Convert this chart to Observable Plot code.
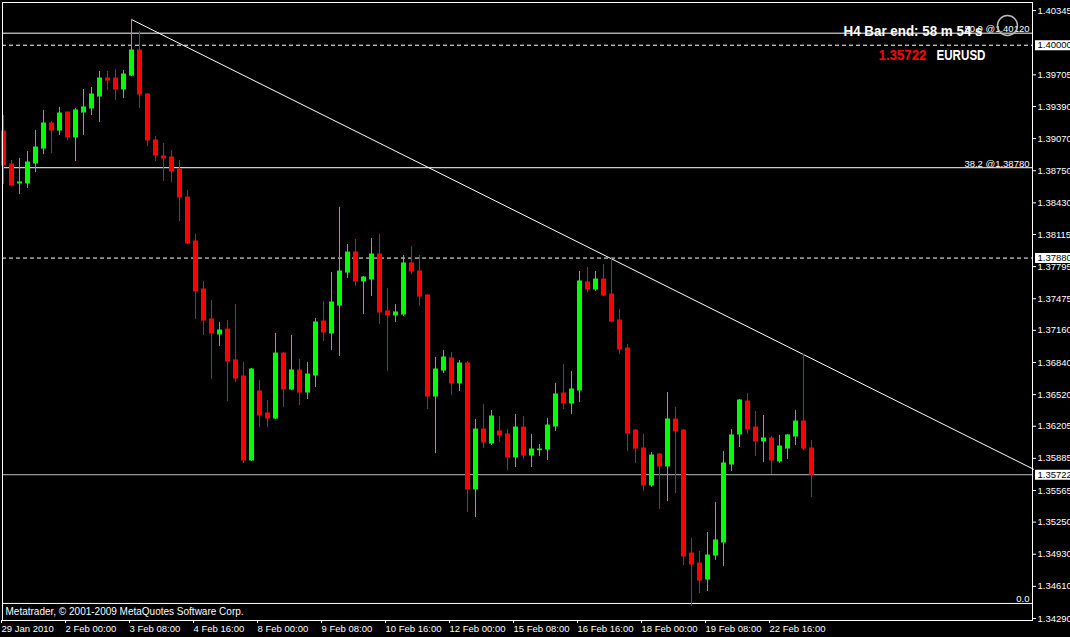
<!DOCTYPE html>
<html>
<head>
<meta charset="utf-8">
<script src="https://cdn.jsdelivr.net/npm/d3@7"></script>
<script src="https://cdn.jsdelivr.net/npm/@observablehq/plot@0.6"></script>
<style>
  html, body { margin: 0; padding: 0; background: #000; overflow: hidden; }
  #chart svg { display: block; }
</style>
</head>
<body>
<div id="chart"></div>
<script>
// ---- Data (EURUSD, H4 bars, 29 Jan 2010 16:00 -> 23 Feb 2010) ----
const opens = [1.39141,1.38812,1.38623,1.38623,1.38822,1.38971,1.39220,1.39150,1.39330,1.39081,
  1.39330,1.39370,1.39489,1.39668,1.39668,1.39559,1.39698,1.39947,1.39509,1.39051,
  1.38892,1.38882,1.38762,1.38483,1.38045,1.37567,1.37268,1.37119,1.37168,1.36860,
  1.36700,1.35864,1.36551,1.36332,1.36282,1.36929,1.36571,1.36760,1.36541,1.36710,
  1.37248,1.37129,1.37407,1.37736,1.37935,1.37647,1.37666,1.37915,1.37348,1.37308,
  1.37318,1.37826,1.37746,1.37507,1.36501,1.36760,1.36880,1.36631,1.36830,1.35575,
  1.36172,1.36033,1.36153,1.36123,1.35894,1.36192,1.35913,1.35966,1.35973,1.36202,
  1.36531,1.36431,1.36561,1.37637,1.37567,1.37666,1.37517,1.37258,1.36979,1.36162,
  1.35983,1.35615,1.35923,1.35804,1.36272,1.36162,1.34937,1.34838,1.34678,1.34917,
  1.35047,1.35824,1.36123,1.36451,1.36192,1.36053,1.36083,1.35854,1.35983,1.36103,
  1.36252,1.35983];
const highs = [1.39300,1.38852,1.38872,1.38941,1.39150,1.39350,1.39240,1.39380,1.39330,1.39370,
  1.39559,1.39579,1.39738,1.39738,1.39758,1.39748,1.40256,1.40137,1.39519,1.39091,
  1.39021,1.38951,1.38852,1.38553,1.38115,1.37647,1.37457,1.37238,1.37258,1.37417,
  1.36840,1.36780,1.36660,1.36461,1.37129,1.36939,1.37109,1.36870,1.36840,1.37278,
  1.37447,1.37736,1.38384,1.38015,1.38065,1.37696,1.38075,1.38115,1.37577,1.37417,
  1.37905,1.37995,1.37905,1.37517,1.36890,1.36959,1.36939,1.36860,1.36850,1.36272,
  1.36421,1.36362,1.36302,1.36172,1.36322,1.36302,1.36123,1.36023,1.36282,1.36631,
  1.36820,1.36750,1.37746,1.37786,1.37746,1.37816,1.37876,1.37368,1.37019,1.36172,
  1.36123,1.35943,1.35933,1.36541,1.36392,1.36172,1.35087,1.34957,1.35147,1.35445,
  1.35953,1.36172,1.36471,1.36531,1.36352,1.36312,1.36103,1.36113,1.36123,1.36362,
  1.36919,1.36063];
const lows = [1.38613,1.38593,1.38513,1.38573,1.38732,1.38911,1.38921,1.39101,1.39051,1.38842,
  1.39101,1.39300,1.39230,1.39549,1.39449,1.39469,1.39688,1.39370,1.38991,1.38842,
  1.38643,1.38633,1.38244,1.38015,1.37268,1.37109,1.36670,1.36999,1.36451,1.36641,
  1.35834,1.35854,1.36192,1.36192,1.36272,1.36392,1.36561,1.36411,1.36471,1.36591,
  1.37049,1.36959,1.36900,1.37676,1.37597,1.37318,1.37497,1.37218,1.36750,1.37238,
  1.37298,1.37716,1.37398,1.36372,1.35933,1.36730,1.36511,1.36551,1.35346,1.35296,
  1.35983,1.36013,1.36043,1.35764,1.35794,1.35874,1.35794,1.35904,1.35864,1.36153,
  1.36372,1.36322,1.36441,1.37537,1.37547,1.37497,1.37238,1.36919,1.35953,1.35834,
  1.35555,1.35595,1.35376,1.35455,1.35535,1.34818,1.34410,1.34539,1.34559,1.34868,
  1.34808,1.35754,1.35993,1.36123,1.35904,1.35844,1.35724,1.35834,1.35874,1.36013,
  1.35963,1.35495];
const closes = [1.38802,1.38603,1.38633,1.38832,1.38981,1.39220,1.39150,1.39320,1.39081,1.39350,
  1.39380,1.39509,1.39668,1.39648,1.39559,1.39708,1.39947,1.39509,1.39051,1.38901,
  1.38872,1.38742,1.38483,1.38025,1.37547,1.37258,1.37129,1.37158,1.36850,1.36680,
  1.35864,1.36770,1.36312,1.36282,1.36929,1.36571,1.36760,1.36541,1.36720,1.37238,
  1.37139,1.37437,1.37746,1.37935,1.37647,1.37686,1.37915,1.37338,1.37308,1.37338,
  1.37826,1.37746,1.37497,1.36501,1.36770,1.36890,1.36631,1.36830,1.35575,1.36172,
  1.36043,1.36302,1.36113,1.35894,1.36192,1.35913,1.35973,1.35973,1.36212,1.36521,
  1.36431,1.36571,1.37647,1.37567,1.37666,1.37507,1.37248,1.36969,1.36133,1.35983,
  1.35615,1.35913,1.35804,1.36272,1.36153,1.34908,1.34828,1.34668,1.34917,1.35067,
  1.35834,1.36113,1.36461,1.36172,1.36053,1.36083,1.35864,1.36003,1.36113,1.36252,
  1.35983,1.35722];

// x-axis tick bars (bar index) and their labels
const xTickIndex = [0, 8, 16, 24, 32, 40, 48, 56, 64, 72, 80, 88, 96];
const xTickLabels = ["29 Jan 2010", "2 Feb 00:00", "3 Feb 08:00", "4 Feb 16:00", "8 Feb 00:00",
  "9 Feb 08:00", "10 Feb 16:00", "12 Feb 00:00", "15 Feb 08:00", "16 Feb 16:00",
  "18 Feb 00:00", "19 Feb 08:00", "22 Feb 16:00"];
// y-axis (price) ticks
const yTickValues = [1.40345, 1.39705, 1.39390, 1.39070, 1.38750, 1.38430, 1.38115, 1.37795,
  1.37475, 1.37160, 1.36840, 1.36520, 1.36205, 1.35885, 1.35565, 1.35250, 1.34930, 1.34610, 1.34290];

// Fibonacci levels
const fibPrices = [1.40120, 1.38780, 1.34440];
const fibLabels = ["50.0 @1.40120", "38.2 @1.38780", "0.0"];
// dashed horizontal levels and current bid
const dashedLevels = [1.40000, 1.37880];
const bidLevel = [1.35722];
const boxedLevels = [1.40000, 1.37880, 1.35722];
// trendline anchors (bar index, price)
const trendAnchorIndex = [16, 100];
const trendAnchorPrice = [1.40256, 1.36919];

const timerText = ["H4 Bar end: 58 m 54 s"];
const bidText = ["1.35722"];
const symbolText = ["EURUSD"];
const copyrightText = ["Metatrader, \u00A9 2001-2009 MetaQuotes Software Corp."];

// ---- build ----
const candles = opens.map((o, i) => ({i, open: o, high: highs[i], low: lows[i], close: closes[i]}));
const GREEN = "#00ff00", RED = "#ff0000";
const candleColor = d => d.close >= d.open ? GREEN : RED;
const X0 = -0.125, X1 = 128.75;
const slope = (trendAnchorPrice[1] - trendAnchorPrice[0]) / (trendAnchorIndex[1] - trendAnchorIndex[0]);
const trend = [
  {i: trendAnchorIndex[0], p: trendAnchorPrice[0]},
  {i: X1, p: trendAnchorPrice[0] + slope * (X1 - trendAnchorIndex[0])}
];
const labelOf = new Map(xTickIndex.map((v, k) => [v, xTickLabels[k]]));
const FONT = "'Liberation Sans', Arial, sans-serif";
const BOLD = "'Liberation Sans', Arial, sans-serif";

const chart = Plot.plot({
  width: 1070,
  height: 637,
  marginLeft: 2,
  marginRight: 38,
  marginTop: 2,
  marginBottom: 17,
  style: {background: "#000", color: "#fff", fontFamily: FONT, fontSize: "9.5px"},
  x: {domain: [X0, X1], range: [2, 1033], axis: null, label: null},
  y: {domain: [1.342701, 1.404255], range: [620, 2], axis: null, label: null},
  color: {type: "identity"},
  marks: [
    Plot.ruleY(fibPrices, {stroke: "#fff"}),
    Plot.ruleY(dashedLevels, {stroke: "#fff", strokeDasharray: "4,3"}),
    Plot.ruleY(bidLevel, {stroke: "#c0c0c0"}),
    Plot.line(trend, {x: "i", y: "p", stroke: "#fff", strokeWidth: 1}),
    Plot.ruleX(candles, {x: "i", y1: "low", y2: "high", stroke: candleColor}),
    Plot.ruleX(candles, {x: "i", y1: d => Math.max(d.open, d.close), y2: d => Math.min(d.open, d.close),
      stroke: candleColor, strokeWidth: 5, insetTop: -0.5, insetBottom: -0.5}),
    Plot.text(fibPrices, {y: d => d, text: (d, k) => fibLabels[k], frameAnchor: "right",
      textAnchor: "end", lineAnchor: "bottom", dx: -3, dy: -1, fill: "#fff", fontSize: 9.5}),
    Plot.text(copyrightText, {frameAnchor: "bottom-left", dx: 3, dy: -9, textAnchor: "start",
      lineAnchor: "middle", fill: "#fff", fontSize: 10}),
    Plot.frame({stroke: "#fff"}),
    Plot.axisY({anchor: "right", ticks: yTickValues, tickFormat: d3.format(".5f"), tickSize: 3,
      tickPadding: 2, label: null, fontSize: 9.5}),
    Plot.axisX({anchor: "bottom", ticks: xTickIndex, tickFormat: d => labelOf.get(d), textAnchor: "start",
      dx: -2, tickSize: 3, tickPadding: 2, label: null, fontSize: 9.5}),
    Plot.ruleY(boxedLevels, {y: d => d, x1: X1 + 0.25, x2: X1 + 6, stroke: "#fff", strokeWidth: 10}),
    Plot.text(boxedLevels, {y: d => d, text: d3.format(".5f"), frameAnchor: "right", dx: 5,
      textAnchor: "start", fill: "#000", fontSize: 9.5}),
    Plot.dot([0], {frameAnchor: "top-right", dx: -25, dy: 23, r: 10, stroke: "#bbb", fill: "none"}),
    Plot.text(timerText, {frameAnchor: "top-right", dx: -50, dy: 29, textAnchor: "end", lineAnchor: "middle",
      fontFamily: BOLD, fontWeight: "bold", fontSize: 15, fill: "#fff"}),
    Plot.text(bidText, {frameAnchor: "top-right", dx: -106, dy: 53, textAnchor: "end", lineAnchor: "middle",
      fontFamily: BOLD, fontWeight: "bold", fontSize: 15, fill: RED}),
    Plot.text(symbolText, {frameAnchor: "top-right", dx: -47, dy: 53, textAnchor: "end", lineAnchor: "middle",
      fontFamily: BOLD, fontWeight: "bold", fontSize: 15, fill: "#fff"})
  ]
});

// condense the bold header texts to the narrow width used by the terminal
const condensedWidth = new Map([[timerText[0], 139], [bidText[0], 48], [symbolText[0], 49]]);
d3.select(chart).selectAll("text").each(function () {
  if (this.getAttribute("fill") === "#000") return;
  const w = condensedWidth.get(this.textContent);
  if (w && this.style.fontWeight !== "" || (w && this.closest("g") && this.closest("g").getAttribute("font-weight") === "bold")) {
    this.setAttribute("textLength", w);
    this.setAttribute("lengthAdjust", "spacingAndGlyphs");
  }
});
document.getElementById("chart").append(chart);
</script>
</body>
</html>
